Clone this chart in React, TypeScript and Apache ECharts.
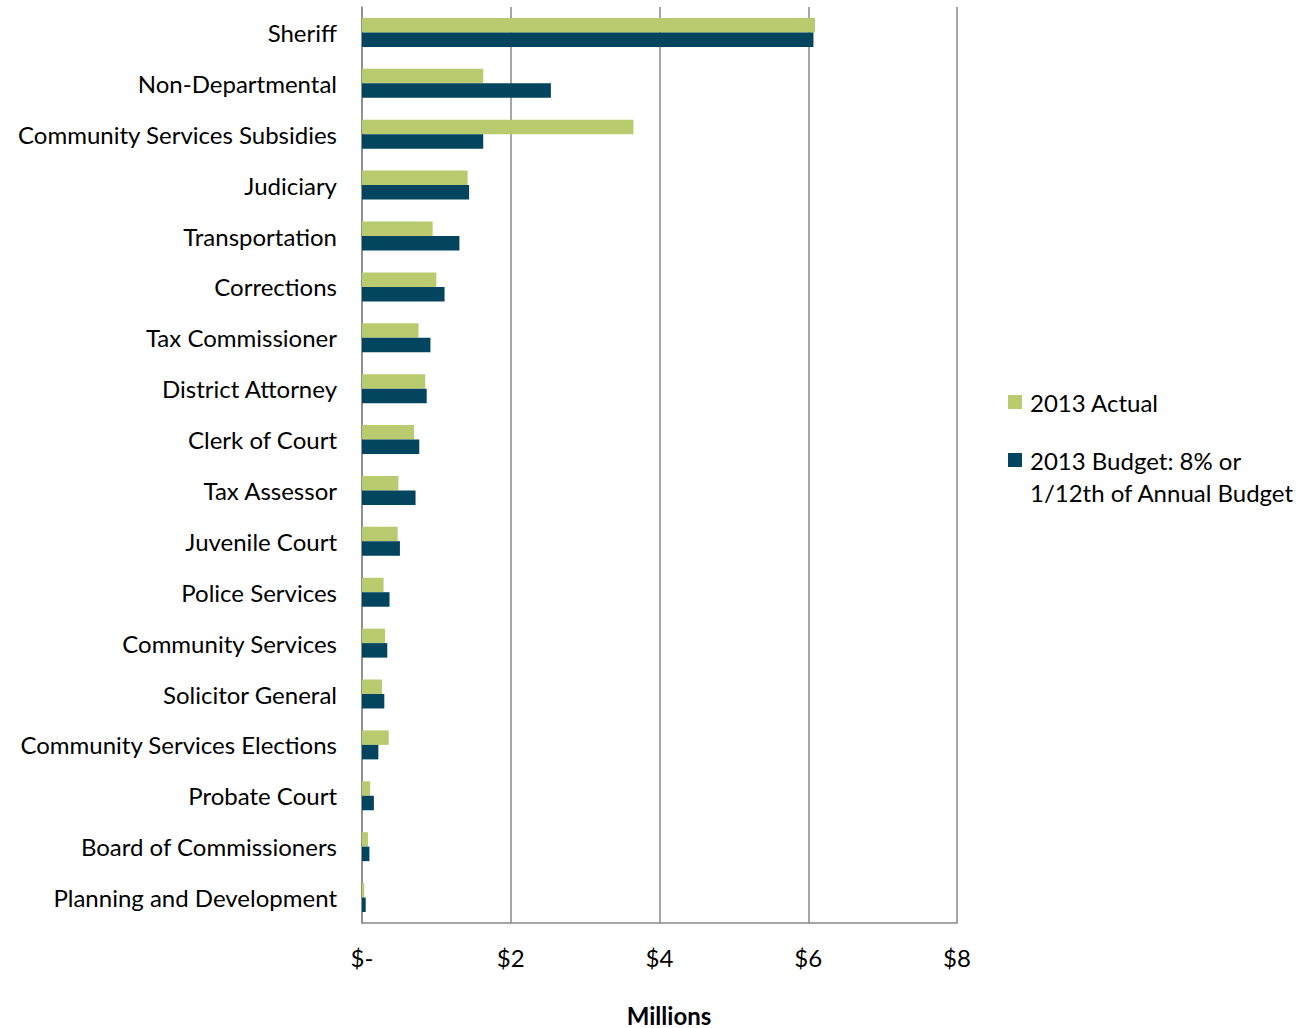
import React, { useEffect, useRef } from "react";
import * as echarts from "echarts";

const categories = [
  "Sheriff",
  "Non-Departmental",
  "Community Services Subsidies",
  "Judiciary",
  "Transportation",
  "Corrections",
  "Tax Commissioner",
  "District Attorney",
  "Clerk of Court",
  "Tax Assessor",
  "Juvenile Court",
  "Police Services",
  "Community Services",
  "Solicitor General",
  "Community Services Elections",
  "Probate Court",
  "Board of Commissioners",
  "Planning and Development",
];

const actual2013 = [6.09, 1.63, 3.65, 1.42, 0.95, 1.0, 0.76, 0.85, 0.7, 0.49, 0.48, 0.29, 0.31, 0.27, 0.36, 0.11, 0.08, 0.03];
const budget2013 = [6.07, 2.54, 1.63, 1.44, 1.31, 1.11, 0.92, 0.87, 0.77, 0.72, 0.51, 0.37, 0.34, 0.3, 0.22, 0.16, 0.1, 0.05];

const seriesNames = ["2013 Actual", "2013 Budget: 8% or\n1/12th of Annual Budget"];
const xTicks = { min: 0, max: 8, interval: 2 };

const FONT = "Lato";
const GREEN = "#BACB6F";
const NAVY = "#03455F";
const AXIS = "#888888";

export default function App() {
  const ref = useRef<HTMLDivElement>(null);
  useEffect(() => {
    if (!ref.current) return;
    const chart = echarts.init(ref.current, undefined, { renderer: "svg" });
    chart.setOption({
      animation: false,
      backgroundColor: "#ffffff",
      textStyle: { fontFamily: FONT },
      grid: { left: 362, right: 353, top: 7, bottom: 105, containLabel: false, outerBoundsMode: "none" },
      legend: {
        orient: "vertical",
        left: 1008,
        top: 386,
        padding: 0,
        itemWidth: 14,
        itemHeight: 14,
        itemGap: -6,
        icon: "rect",
        textStyle: { fontFamily: FONT, fontSize: 24, color: "#000", lineHeight: 32, padding: [0, 0, 0, 3] },
        formatter: (name: string) => (name === seriesNames[1] ? "\n" + name : name),
        data: [seriesNames[0], seriesNames[1]],
      },
      xAxis: {
        type: "value",
        min: xTicks.min,
        max: xTicks.max,
        interval: xTicks.interval,
        name: "Millions",
        nameLocation: "middle",
        nameGap: 80,
        nameTextStyle: { fontFamily: FONT, fontSize: 24, fontWeight: "bold", color: "#000", padding: [0, 0, 0, 19] },
        axisLine: { show: true, lineStyle: { color: AXIS, width: 1.5 } },
        axisTick: { show: false },
        splitLine: { show: true, lineStyle: { color: AXIS, width: 1.5 } },
        axisLabel: {
          fontFamily: FONT,
          fontSize: 24,
          color: "#000",
          margin: 22,
          formatter: (v: number) => (v === 0 ? "$-" : "$" + v),
        },
      },
      yAxis: {
        type: "category",
        data: categories,
        inverse: true,
        axisLine: { show: true, lineStyle: { color: AXIS, width: 1.5 } },
        axisTick: { show: false },
        axisLabel: { fontFamily: FONT, fontSize: 24, color: "#000", margin: 25 },
      },
      series: [
        {
          name: seriesNames[0],
          type: "bar",
          data: actual2013,
          barWidth: 14.5,
          barGap: "0%",
          itemStyle: { color: GREEN },
        },
        {
          name: seriesNames[1],
          type: "bar",
          data: budget2013,
          barWidth: 14.5,
          barGap: "0%",
          itemStyle: { color: NAVY },
        },
      ],
    });
    return () => chart.dispose();
  }, []);
  return (
    <div
      ref={ref}
      style={{ position: "absolute", left: 0, top: 0, width: 1310, height: 1028 }}
    />
  );
}
